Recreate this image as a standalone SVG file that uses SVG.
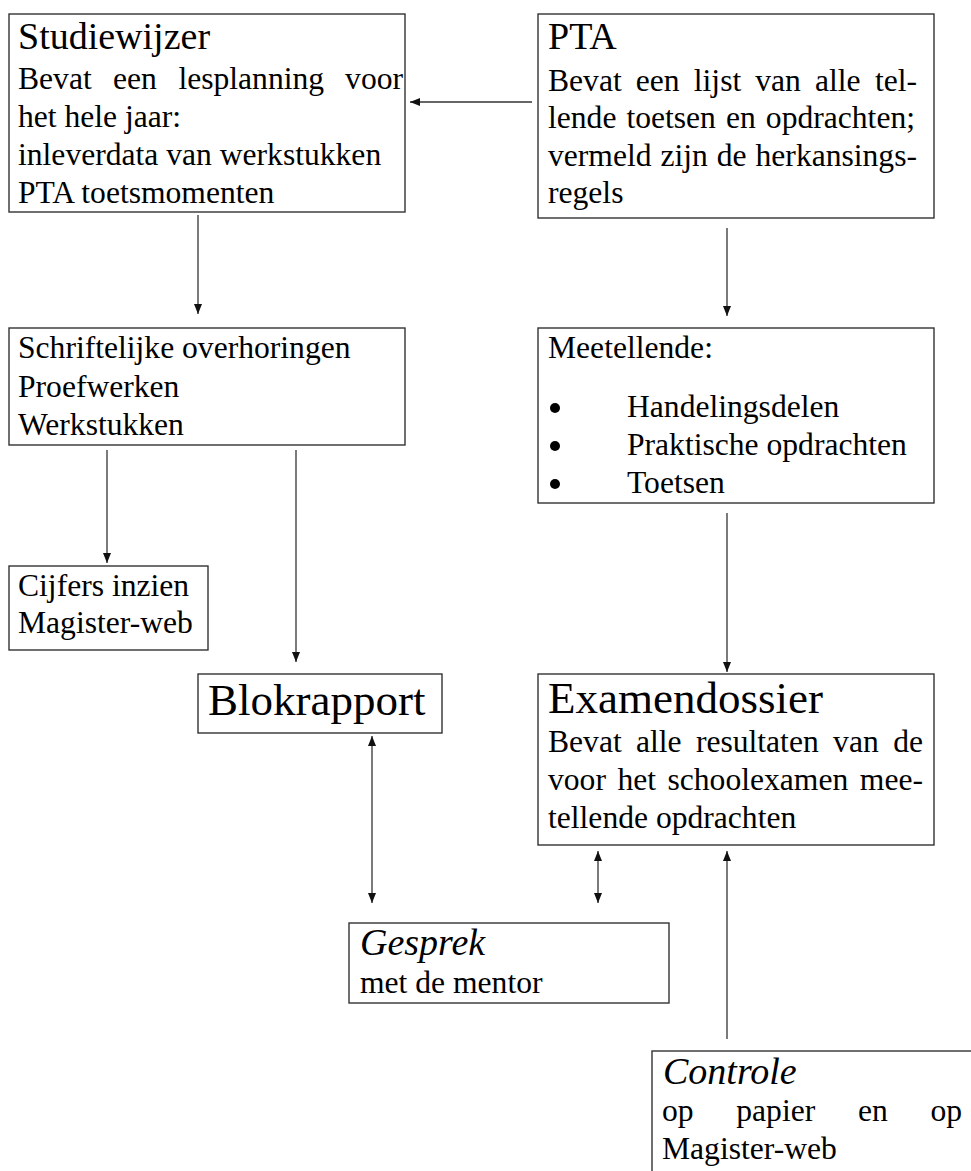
<svg xmlns="http://www.w3.org/2000/svg" width="971" height="1171" viewBox="0 0 971 1171">
<style>
.box{fill:#fff;stroke:#333;stroke-width:1.4}
.t{font-family:"Liberation Serif","Times New Roman",serif;font-size:31.6px;fill:#000}
.h{font-family:"Liberation Serif","Times New Roman",serif;font-size:38px;fill:#000}
.big{font-family:"Liberation Serif","Times New Roman",serif;font-size:45px;fill:#000}
.hi{font-family:"Liberation Serif","Times New Roman",serif;font-size:38px;font-style:italic;fill:#000}
.c{fill:none;stroke:#333;stroke-width:1.3}
.bul{fill:#000}
</style>
<defs>
<marker id="ah" markerUnits="userSpaceOnUse" markerWidth="10" markerHeight="8" refX="10" refY="4" orient="auto-start-reverse">
<path d="M0,0 L10,4 L0,8 z" fill="#111"/>
</marker>
</defs>
<rect width="971" height="1171" fill="#fff"/>

<g id="connectors">
<line class="c" x1="532" y1="102" x2="410" y2="102" marker-end="url(#ah)"/>
<line class="c" x1="198" y1="215" x2="198" y2="314" marker-end="url(#ah)"/>
<line class="c" x1="727" y1="228" x2="727" y2="316" marker-end="url(#ah)"/>
<line class="c" x1="107" y1="450" x2="107" y2="563" marker-end="url(#ah)"/>
<line class="c" x1="296" y1="450" x2="296" y2="662" marker-end="url(#ah)"/>
<line class="c" x1="727" y1="513" x2="727" y2="672" marker-end="url(#ah)"/>
<line class="c" x1="372" y1="736" x2="372" y2="903" marker-start="url(#ah)" marker-end="url(#ah)"/>
<line class="c" x1="598" y1="851" x2="598" y2="903" marker-start="url(#ah)" marker-end="url(#ah)"/>
<line class="c" x1="727" y1="1039" x2="727" y2="851" marker-end="url(#ah)"/>
</g>

<g id="studiewijzer">
<rect class="box" x="9" y="14" width="396" height="198"/>
<text class="h" x="18" y="49">Studiewijzer</text>
<text class="t" y="89"><tspan x="18">Bevat</tspan><tspan x="113">een</tspan><tspan x="178.4">lesplanning</tspan><tspan x="403" text-anchor="end">voor</tspan></text>
<text class="t" x="18" y="127">het hele jaar:</text>
<text class="t" x="18" y="165">inleverdata van werkstukken</text>
<text class="t" x="18" y="203">PTA toetsmomenten</text>
</g>

<g id="pta">
<rect class="box" x="538" y="14" width="396" height="204"/>
<text class="h" x="548" y="49">PTA</text>
<text class="t" y="91"><tspan x="548">Bevat</tspan><tspan x="635.8">een</tspan><tspan x="693.8">lijst</tspan><tspan x="755.3">van</tspan><tspan x="815">alle</tspan><tspan x="917" text-anchor="end">tel-</tspan></text>
<text class="t" y="128"><tspan x="548">lende</tspan><tspan x="626.4">toetsen</tspan><tspan x="725.9">en</tspan><tspan x="915" text-anchor="end">opdrachten;</tspan></text>
<text class="t" y="166"><tspan x="548">vermeld</tspan><tspan x="660.5">zijn</tspan><tspan x="716.8">de</tspan><tspan x="917" text-anchor="end">herkansings-</tspan></text>
<text class="t" x="548" y="203">regels</text>
</g>

<g id="schriftelijke">
<rect class="box" x="9" y="328" width="396" height="117"/>
<text class="t" x="18" y="358">Schriftelijke overhoringen</text>
<text class="t" x="18" y="397">Proefwerken</text>
<text class="t" x="18" y="435">Werkstukken</text>
</g>

<g id="meetellende">
<rect class="box" x="538" y="328" width="396" height="175"/>
<text class="t" x="548" y="358">Meetellende:</text>
<circle class="bul" cx="555" cy="408" r="5"/>
<text class="t" x="627" y="417">Handelingsdelen</text>
<circle class="bul" cx="555" cy="446" r="5"/>
<text class="t" x="627" y="455">Praktische opdrachten</text>
<circle class="bul" cx="555" cy="484" r="5"/>
<text class="t" x="627" y="493">Toetsen</text>
</g>

<g id="cijfers">
<rect class="box" x="9" y="566" width="199" height="84"/>
<text class="t" x="18" y="596">Cijfers inzien</text>
<text class="t" x="18" y="633">Magister-web</text>
</g>

<g id="blokrapport">
<rect class="box" x="198" y="674" width="244" height="59"/>
<text class="big" x="208" y="715">Blokrapport</text>
</g>

<g id="examendossier">
<rect class="box" x="538" y="674" width="396" height="171"/>
<text class="big" x="548" y="713">Examendossier</text>
<text class="t" y="752"><tspan x="548">Bevat</tspan><tspan x="636">alle</tspan><tspan x="695.9">resultaten</tspan><tspan x="833.1">van</tspan><tspan x="923" text-anchor="end">de</tspan></text>
<text class="t" y="790"><tspan x="548">voor</tspan><tspan x="617.4">het</tspan><tspan x="667.5">schoolexamen</tspan><tspan x="923" text-anchor="end">mee-</tspan></text>
<text class="t" x="548" y="828">tellende opdrachten</text>
</g>

<g id="gesprek">
<rect class="box" x="349" y="923" width="320" height="80"/>
<text class="hi" x="360" y="955">Gesprek</text>
<text class="t" x="360" y="993">met de mentor</text>
</g>

<g id="controle">
<rect class="box" x="652" y="1051" width="400" height="160"/>
<text class="hi" x="663" y="1084">Controle</text>
<text class="t" y="1121"><tspan x="662">op</tspan><tspan x="736.3">papier</tspan><tspan x="858">en</tspan><tspan x="962" text-anchor="end">op</tspan></text>
<text class="t" x="662" y="1159">Magister-web</text>
</g>
</svg>
